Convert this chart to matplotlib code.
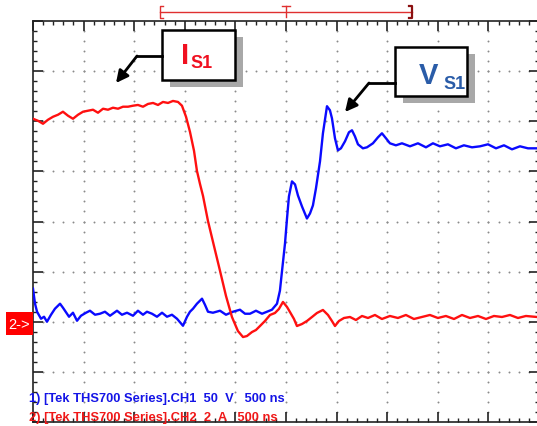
import numpy as np
import matplotlib.pyplot as plt
from matplotlib.patches import Rectangle
from matplotlib.lines import Line2D
from matplotlib.ticker import MultipleLocator

W, H = 537, 427

# scope settings
t_div = 500.0      # ns/div
ch1_scale = 50.0   # V/div
ch2_scale = 2.0    # A/div
ground_div = 2.0   # both channels referenced to 2 div

# CH2: switch current I_S1 (time in ns, current in A)
t_is1 = [0, 49, 99, 148, 198, 247, 296, 346, 395, 445, 494, 543, 593, 642,
         692, 741, 790, 840, 889, 939, 988, 1037, 1087, 1136, 1186, 1235,
         1284, 1334, 1383, 1433, 1472, 1512, 1551, 1591, 1620, 1650, 1680,
         1729, 1788, 1848, 1907, 1966, 2025, 2075, 2114, 2164, 2203, 2243,
         2292, 2342, 2391, 2430, 2470, 2510, 2539, 2579, 2608, 2658, 2707,
         2757, 2806, 2865, 2915, 2954, 2984, 3023, 3073, 3132, 3191, 3251,
         3310, 3379, 3448, 3527, 3606, 3685, 3764, 3843, 3922, 4001, 4080,
         4160, 4239, 4318, 4397, 4476, 4555, 4634, 4713, 4792, 4871, 4980]
is1_amp = [8.10, 8.02, 7.90, 8.06, 8.18, 8.26, 8.38, 8.22, 8.10, 8.26, 8.38,
           8.42, 8.46, 8.34, 8.50, 8.46, 8.54, 8.50, 8.58, 8.58, 8.62, 8.65,
           8.58, 8.69, 8.73, 8.65, 8.77, 8.73, 8.81, 8.77, 8.62, 8.18, 7.58,
           6.82, 6.02, 5.50, 5.02, 4.02, 3.03, 2.03, 1.03, 0.19, -0.37, -0.61,
           -0.57, -0.41, -0.33, -0.17, 0.03, 0.27, 0.35, 0.51, 0.79, 0.59,
           0.39, 0.11, -0.17, -0.09, 0.03, 0.19, 0.35, 0.47, 0.27, 0.03,
           -0.17, 0.03, 0.15, 0.19, 0.07, 0.23, 0.15, 0.27, 0.11, 0.23, 0.15,
           0.27, 0.11, 0.19, 0.27, 0.15, 0.23, 0.11, 0.27, 0.15, 0.23, 0.11,
           0.23, 0.19, 0.27, 0.15, 0.23, 0.19]

# CH1: switch voltage V_S1 (time in ns, voltage in V)
t_vs1 = [0, 20, 40, 79, 109, 138, 178, 217, 267, 296, 316, 356, 395, 435,
         474, 524, 563, 613, 662, 711, 761, 830, 879, 929, 988, 1037, 1087,
         1126, 1176, 1225, 1275, 1324, 1373, 1423, 1482, 1522, 1551, 1581,
         1620, 1670, 1699, 1729, 1778, 1848, 1907, 1976, 2045, 2095, 2144,
         2203, 2263, 2312, 2361, 2411, 2440, 2460, 2490, 2510, 2529, 2559,
         2589, 2618, 2658, 2707, 2737, 2766, 2796, 2836, 2865, 2905, 2934,
         2954, 2984, 3013, 3043, 3083, 3122, 3152, 3181, 3211, 3260, 3300,
         3359, 3409, 3448, 3488, 3527, 3586, 3646, 3725, 3804, 3883, 3952,
         4021, 4100, 4179, 4258, 4338, 4417, 4496, 4575, 4654, 4733, 4812,
         4891, 4980]
vs1_volt = [33, 18, 10, 3, 5, 0, 7, 13, 18, 14, 11, 5, 9, 1, 6, 9, 11, 7, 8,
            10, 6, 11, 7, 9, 6, 11, 7, 10, 8, 5, 9, 5, 7, 3, -4, 5, 10, 13,
            18, 23, 17, 10, 9, 11, 7, 10, 12, 8, 8, 11, 8, 10, 12, 18, 31,
            50, 78, 103, 125, 140, 137, 126, 115, 103, 108, 116, 133, 160,
            188, 215, 211, 203, 183, 171, 173, 180, 189, 191, 185, 177, 173,
            174, 178, 184, 188, 183, 178, 176, 178, 175, 178, 174, 178, 175,
            177, 173, 176, 174, 175, 177, 173, 176, 172, 175, 173, 173]

bottom_lines = ["1) [Tek THS700 Series].CH1  50  V   500 ns",
                "2) [Tek THS700 Series].CH2  2  A   500 ns"]


def fx(x):
    return x / W


def fy(y):
    return 1 - y / H


fig = plt.figure(figsize=(W / 100, H / 100), dpi=100)
ax = fig.add_axes([33 / W, 4 / H, 506 / W, 401 / H])
ax.set_xlim(0, 10 * t_div)
ax.set_ylim(0, 8)

ax.xaxis.set_major_locator(MultipleLocator(t_div))
ax.xaxis.set_minor_locator(MultipleLocator(t_div / 5))
ax.yaxis.set_major_locator(MultipleLocator(1))
ax.yaxis.set_minor_locator(MultipleLocator(0.2))
ax.tick_params(which='both', direction='in', top=True, right=True,
               labelbottom=False, labelleft=False, color='#222222')
ax.tick_params(which='major', length=7, width=1.2)
ax.tick_params(which='minor', length=3, width=1)
for s in ax.spines.values():
    s.set_linewidth(1.2)
    s.set_color('#222222')

# dotted graticule
for gx in np.arange(1, 10) * t_div:
    ys = np.arange(0.2, 8, 0.2)
    ax.plot(np.full_like(ys, gx), ys, ls='none', marker='o', ms=1.4,
            mec='none', mfc='#8a8a8a', zorder=1)
for gy in range(1, 8):
    xs = np.arange(t_div / 5, 10 * t_div, t_div / 5)
    ax.plot(xs, np.full_like(xs, gy), ls='none', marker='o', ms=1.4,
            mec='none', mfc='#8a8a8a', zorder=1)

# traces
ax.plot(t_vs1, ground_div + np.array(vs1_volt) / ch1_scale,
        color='#0a0aff', lw=1.7, zorder=3)
ax.plot(t_is1, ground_div + np.array(is1_amp) / ch2_scale,
        color='#ff1010', lw=1.7, zorder=4)

tf = fig.transFigure

# trigger window bracket on top
fig.add_artist(Line2D([fx(160), fx(412)], [fy(13), fy(13)], transform=tf,
                      color='#e03030', lw=1))
fig.add_artist(Line2D([fx(163), fx(160), fx(160), fx(163)],
                      [fy(7), fy(7), fy(19), fy(19)], transform=tf,
                      color='#e03030', lw=1))
fig.add_artist(Line2D([fx(409), fx(412), fx(412), fx(409)],
                      [fy(7), fy(7), fy(19), fy(19)], transform=tf,
                      color='#8b1010', lw=1.6))
fig.add_artist(Line2D([fx(282), fx(290)], [fy(7), fy(7)], transform=tf,
                      color='#e03030', lw=1))
fig.add_artist(Line2D([fx(286), fx(286)], [fy(7), fy(18)], transform=tf,
                      color='#e03030', lw=1))

# channel 2 ground marker
fig.add_artist(Rectangle((fx(6), fy(336)), 27 / W, 23 / H, transform=tf,
                         facecolor='#ff0000', edgecolor='none'))
fig.text(fx(19), fy(325), "2->", color='white', fontsize=10.5,
         family='Liberation Sans', ha='center', va='center')


def label_box(x0, y0, x1, y1, main, sub, color, tip, elbow):
    fig.add_artist(Rectangle((fx(x0 + 8), fy(y1 + 7)), (x1 - x0) / W,
                             (y1 - y0) / H, transform=tf,
                             facecolor='#a8a8a8', edgecolor='none'))
    fig.add_artist(Rectangle((fx(x0), fy(y1)), (x1 - x0) / W,
                             (y1 - y0) / H, transform=tf,
                             facecolor='white', edgecolor='black', lw=1.8))
    ym = elbow[1]
    fig.add_artist(Line2D([fx(x0), fx(elbow[0])], [fy(ym), fy(ym)],
                          transform=tf, color='black', lw=2))
    ax.annotate('', xy=(fx(tip[0]), fy(tip[1])),
                xytext=(fx(elbow[0]), fy(ym)), xycoords='figure fraction',
                textcoords='figure fraction', annotation_clip=False,
                arrowprops=dict(arrowstyle='-|>', color='black', lw=2,
                                mutation_scale=18, shrinkA=0, shrinkB=0))
    fig.text(fx(main[0]), fy(main[1]), main[2], color=color,
             fontsize=21, weight='bold', family='Liberation Sans',
             va='baseline')
    fig.text(fx(sub[0]), fy(sub[1]), sub[2], color=color, fontsize=13,
             weight='bold', family='Liberation Sans', va='baseline')


label_box(162, 31, 235, 81, (181, 64, "I"), (190, 68, "S1"), '#f01020',
          (116, 84), (137, 57))
label_box(395, 48, 467, 97, (419, 84, "V"), (443, 89, "S1"), '#2a5ca8',
          (345, 113), (369, 84))

# channel readout
fig.text(fx(29), fy(402), bottom_lines[0], color='#1414e6', fontsize=9.3,
         weight='bold', family='Liberation Sans', va='baseline')
fig.text(fx(29), fy(421), bottom_lines[1], color='#f01818', fontsize=9.3,
         weight='bold', family='Liberation Sans', va='baseline')

fig.savefig('out.png', dpi=100)
